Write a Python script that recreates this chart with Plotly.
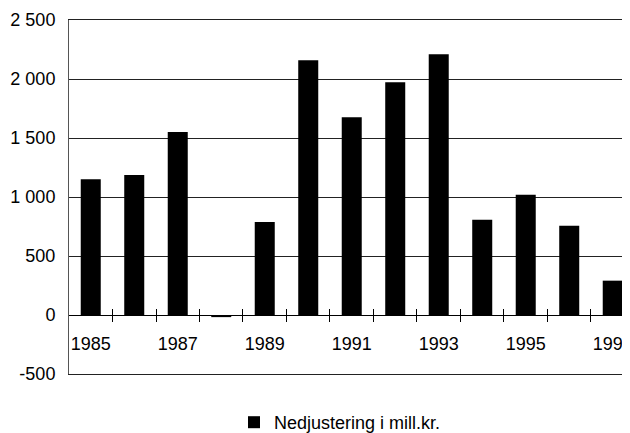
import plotly.graph_objects as go

years = [1985, 1986, 1987, 1988, 1989, 1990, 1991, 1992, 1993, 1994, 1995, 1996, 1997]
values = [1150, 1186, 1551, -18, 788, 2158, 1675, 1972, 2209, 808, 1020, 757, 291]
series_name = "Nedjustering i mill.kr."
x_labels = [1985, 1987, 1989, 1991, 1993, 1995, 1997]
y_ticks = [-500, 0, 500, 1000, 1500, 2000, 2500]
y_tick_text = ["-500", "0", "500", "1 000", "1 500", "2 000", "2 500"]

boundaries = [y + 0.5 for y in years[:-1]]
FONT = "Liberation Sans, Arial, sans-serif"
FS = 18
OFF = 8  # page body margin in the browser
xr = [1984.5, 1997.397]
yr = [y_ticks[0], y_ticks[-1]]
zero_pos = (0 - yr[0]) / (yr[1] - yr[0])
W, H = 630 - OFF, 433 - OFF

fig = go.Figure()
fig.add_trace(go.Bar(x=years, y=values, width=0.46, name=series_name,
                     marker=dict(color="black", line=dict(width=0)),
                     showlegend=True))
fig.add_trace(go.Scatter(x=[years[0]], y=[0], xaxis="x2", mode="markers",
                         marker=dict(opacity=0), showlegend=False, hoverinfo="skip"))
fig.add_trace(go.Scatter(x=[years[0]], y=[0], xaxis="x3", mode="markers",
                         marker=dict(opacity=0), showlegend=False, hoverinfo="skip"))

fig.update_layout(
    width=W, height=H,
    margin=dict(l=69 - OFF, r=0, t=20 - OFF, b=59, autoexpand=False),
    paper_bgcolor="white", plot_bgcolor="white",
    font=dict(family=FONT, size=FS, color="black"),
    showlegend=True,
    legend=dict(orientation="h", xref="container", yref="container",
                x=(234 - OFF) / W, xanchor="left", y=1 - (404 - OFF) / H, yanchor="top",
                font=dict(size=FS, family=FONT, color="black"),
                bgcolor="rgba(0,0,0,0)"),
    xaxis=dict(range=xr, anchor="free", position=zero_pos, automargin=False,
               tickmode="array", tickvals=x_labels, ticktext=[str(v) for v in x_labels],
               ticks="outside", ticklen=0, showgrid=False, zeroline=False,
               showline=True, linecolor="black", linewidth=1,
               ticklabelstandoff=12, ticklabeloverflow="allow",
               minor=dict(tickmode="array", tickvals=boundaries, ticks="outside",
                          ticklen=6, tickcolor="black", tickwidth=1, showgrid=False),
               tickfont=dict(size=FS, family=FONT, color="black")),
    xaxis2=dict(range=xr, overlaying="x", anchor="free", position=zero_pos,
                automargin=False,
                tickmode="array", tickvals=boundaries, ticks="inside", ticklen=6,
                tickcolor="black", tickwidth=1, showticklabels=False,
                showgrid=False, zeroline=False, showline=False),
    xaxis3=dict(range=xr, overlaying="x", anchor="y", automargin=False,
                showticklabels=False, ticks="", showgrid=False, zeroline=False,
                showline=True, mirror=True, linecolor="#222", linewidth=1),
    yaxis=dict(range=yr, tickmode="array", tickvals=y_ticks, automargin=False,
               ticktext=y_tick_text, showgrid=True, gridcolor="#222", gridwidth=1,
               zeroline=True, zerolinecolor="black", zerolinewidth=1,
               showline=True, linecolor="#555", linewidth=1,
               ticks="", ticklabelstandoff=9,
               tickfont=dict(size=FS, family=FONT, color="black")),
)

fig.write_html("out.html")
